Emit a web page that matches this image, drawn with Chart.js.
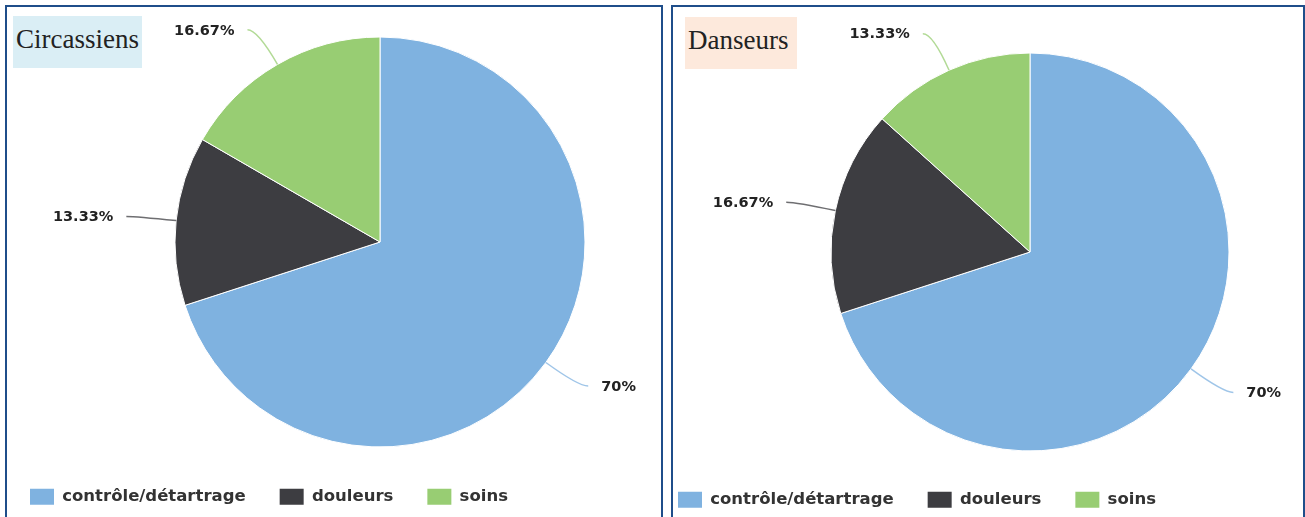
<!DOCTYPE html>
<html lang="fr">
<head>
<meta charset="utf-8">
<script src="https://cdn.jsdelivr.net/npm/chart.js@4.4.1/dist/chart.umd.min.js"></script>
<style>
  html, body { margin: 0; padding: 0; width: 1305px; height: 517px; overflow: hidden; background: #fff; }
  canvas { position: absolute; top: 0; }
  #circassiens { left: -4px; }
  #danseurs { left: 644px; }
  .panel { position: absolute; top: 5px; height: 600px; border: 2px solid #1f4e8a; box-sizing: border-box; pointer-events: none; }
  .tag { position: absolute; height: 52px; line-height: 46px; padding-left: 3px; box-sizing: border-box;
         font-family: "Liberation Serif", "DejaVu Serif", serif; font-size: 27px; color: #222; }
</style>
</head>
<body>
<canvas id="circassiens" width="768" height="515"></canvas>
<canvas id="danseurs" width="772" height="518"></canvas>
<div class="panel" style="left:5px; width:658px;"></div>
<div class="panel" style="left:671px; width:634px;"></div>
<div class="tag" style="left:13px; top:16px; width:129px; background:#daeef5;">Circassiens</div>
<div class="tag" style="left:685px; top:17px; width:112px; background:#fde9dc;">Danseurs</div>
<script>
const categories = ['contrôle/détartrage', 'douleurs', 'soins'];
const circassiensValues = [70, 13.33, 16.67];
const danseursValues = [70, 16.67, 13.33];
const sliceColors = ['#7fb2e0', '#3d3d41', '#98cd73'];

// percentage labels outside the pie, joined by a curved leader line
const leaderLabels = {
    id: 'leaderLabels',
    afterDatasetsDraw(chart) {
        const { ctx } = chart;
        const values = chart.data.datasets[0].data;
        ctx.save();
        ctx.font = 'bold 14.5px "DejaVu Sans"';
        ctx.textBaseline = 'middle';
        chart.getDatasetMeta(0).data.forEach((arc, i) => {
            const { x, y, startAngle, endAngle, outerRadius } =
                arc.getProps(['x', 'y', 'startAngle', 'endAngle', 'outerRadius'], true);
            const mid = (startAngle + endAngle) / 2;
            const cos = Math.cos(mid), sin = Math.sin(mid);
            const x0 = x + cos * outerRadius, y0 = y + sin * outerRadius;
            const x1 = x + cos * (outerRadius + 40), y1 = y + sin * (outerRadius + 40);
            const side = cos >= 0 ? 1 : -1;
            const x2 = x1 + side * 10;

            ctx.beginPath();
            ctx.moveTo(x0, y0);
            ctx.quadraticCurveTo(x1, y1, x2, y1);
            ctx.globalAlpha = 0.75;
            ctx.strokeStyle = sliceColors[i];
            ctx.lineWidth = 1.5;
            ctx.stroke();
            ctx.globalAlpha = 1;

            ctx.fillStyle = '#222';
            ctx.textAlign = side > 0 ? 'left' : 'right';
            ctx.fillText(values[i] + '%', x2 + side * 13, y1 + 1);
        });
        ctx.restore();
    }
};

function initPie(id, values, padTop, radius) {
    return new Chart(document.getElementById(id), {
        type: 'pie',
        data: {
            labels: categories,
            datasets: [{
                data: values,
                backgroundColor: sliceColors,
                borderColor: '#fff',
                borderWidth: 1,
                radius
            }]
        },
        options: {
            responsive: false,
            animation: false,
            events: [],
            layout: { padding: { top: padTop } },
            plugins: {
                tooltip: { enabled: false },
                legend: {
                    position: 'bottom',
                    align: 'start',
                    labels: {
                        boxWidth: 24,
                        boxHeight: 16,
                        padding: 34,
                        color: '#333',
                        font: { family: 'DejaVu Sans', size: 16.5, weight: 'bold' },
                        generateLabels: (chart) =>
                            Chart.overrides.pie.plugins.legend.labels.generateLabels(chart)
                                .map(item => ({ ...item, lineWidth: 0 }))
                    }
                }
            }
        },
        plugins: [leaderLabels]
    });
}

initPie('circassiens', circassiensValues, 29.5, 205);
initPie('danseurs', danseursValues, 46.5, 199);
</script>
</body>
</html>
